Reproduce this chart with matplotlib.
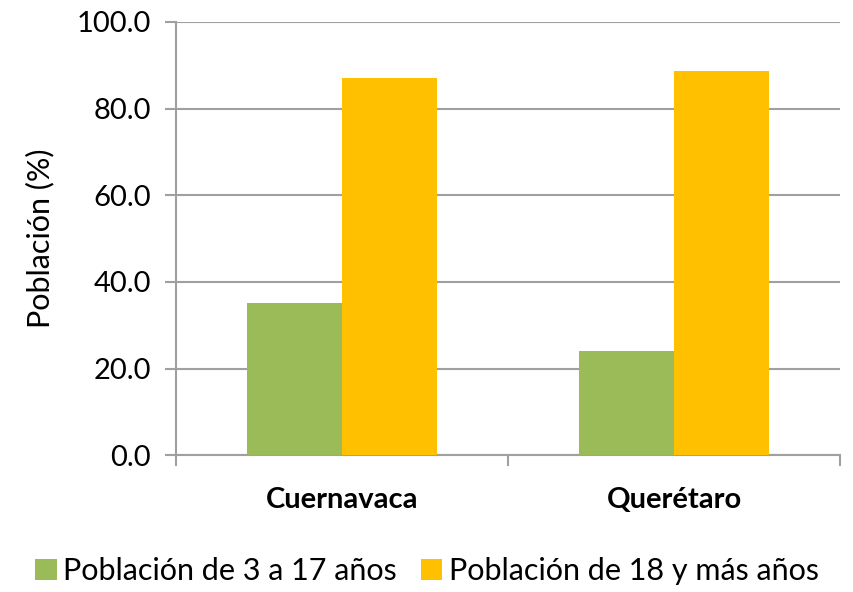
import matplotlib
matplotlib.use("Agg")
import matplotlib.pyplot as plt
import numpy as np

plt.rcParams["font.family"] = ["Lato", "DejaVu Sans"]

# Data
ciudades = ["Cuernavaca", "Querétaro"]
series = ["Población de 3 a 17 años", "Población de 18 y más años"]
pob_3_17 = [35.1, 24.0]
pob_18_mas = [87.1, 88.7]
colores = ["#9BBB59", "#FFC000"]

fig = plt.figure(figsize=(8.54, 5.92), dpi=100)
ax = fig.add_axes([0.206, 0.231, 0.778, 0.732])

x = np.arange(len(ciudades))
ancho = 2 / 7
ax.bar(x - ancho / 2, pob_3_17, ancho, color=colores[0], label=series[0], zorder=3)
ax.bar(x + ancho / 2, pob_18_mas, ancho, color=colores[1], label=series[1], zorder=3)

ax.set_xlim(-0.5, len(ciudades) - 0.5)
ax.set_ylim(0, 100)
ax.set_yticks(np.arange(0, 101, 20))
ax.set_yticklabels([f"{v:.1f}" for v in np.arange(0, 101, 20)], fontsize=21)
ax.yaxis.grid(True, color="#A0A0A0", linewidth=1.5, zorder=0)
ax.tick_params(axis="y", length=8, width=1.5, color="#A0A0A0", pad=10)

# category labels between separator ticks
ax.set_xticks(np.arange(-0.5, len(ciudades), 1))
ax.set_xticklabels([])
ax.tick_params(axis="x", length=8, width=1.5, color="#A0A0A0")
ax.set_xticks(x, minor=True)
ax.set_xticklabels(ciudades, minor=True, fontsize=21, fontweight="bold")
ax.tick_params(axis="x", which="minor", length=0, pad=23)

for s in ["top", "right"]:
    ax.spines[s].set_visible(False)
for s in ["left", "bottom"]:
    ax.spines[s].set_color("#A0A0A0")
    ax.spines[s].set_linewidth(1.5)

ax.set_ylabel("Población (%)", fontsize=22, labelpad=16)

fig.legend(loc="lower center", bbox_to_anchor=(0.5, -0.035), ncol=2, frameon=False,
           fontsize=22, handlelength=0.7, handleheight=0.7, handletextpad=0.2,
           columnspacing=0.8)

fig.savefig("out.png", dpi=100)
